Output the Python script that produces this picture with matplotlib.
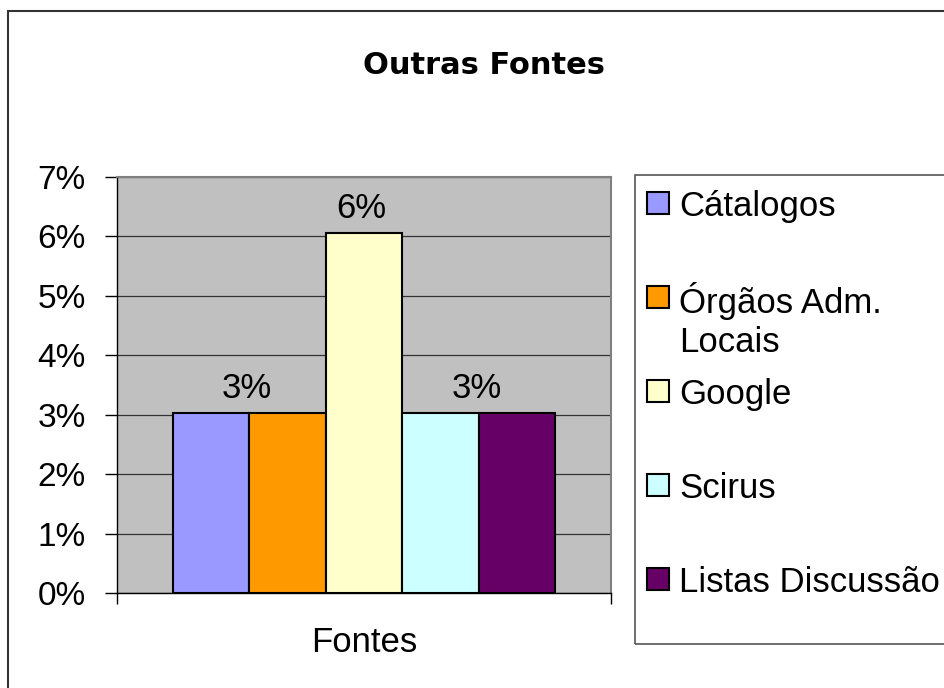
import matplotlib
matplotlib.use('Agg')
import matplotlib.pyplot as plt
from matplotlib.patches import Rectangle
from matplotlib.ticker import FuncFormatter

plt.rcParams['font.family'] = ['Liberation Sans', 'DejaVu Sans']

# dados
categorias = ['Cátalogos', 'Órgãos Adm.\nLocais', 'Google', 'Scirus', 'Listas Discussão']
valores = [3.03, 3.03, 6.06, 3.03, 3.03]  # em %
cores = ['#9999FF', '#FF9900', '#FFFFCC', '#CCFFFF', '#660066']
grupo_x = 'Fontes'
titulo = 'Outras Fontes'
yticks = [0, 1, 2, 3, 4, 5, 6, 7]
# rotulos de dados (Excel mostra um rotulo por grupo de barras iguais)
grupos_rotulo = [[0, 1], [2], [3, 4]]

W, H = 945, 688
fig = plt.figure(figsize=(W / 100, H / 100), dpi=100)
fig.patch.set_facecolor('white')

def px(x0, y0, x1, y1):
    # caixa em pixels (topo-esquerda) -> fracao da figura
    return [x0 / W, 1 - y1 / H, (x1 - x0) / W, (y1 - y0) / H]

# moldura do grafico (cortada a direita e em baixo)
fig.patches.append(Rectangle((8 / W, -0.1), 1.2, (H - 11) / H + 0.1,
                             transform=fig.transFigure, fill=False,
                             edgecolor='#333333', linewidth=1.5))

ax = fig.add_axes(px(117, 177, 611, 593))
ax.set_facecolor('#C0C0C0')

largura = 0.155
centro = 0.5
xs = [centro + (i - (len(valores) - 1) / 2) * largura for i in range(len(valores))]
ax.bar(xs, valores, width=largura, color=cores, edgecolor='black', linewidth=1.5, zorder=3)

for g in grupos_rotulo:
    xm = sum(xs[i] for i in g) / len(g) - 0.005
    ax.annotate('%.0f%%' % valores[g[0]], (xm, valores[g[0]]), xytext=(0, 11),
                textcoords='offset points', ha='center', va='baseline', fontsize=25)

ax.set_xlim(0, 1)
ax.set_ylim(0, 7)
ax.set_yticks(yticks)
ax.yaxis.set_major_formatter(FuncFormatter(lambda v, p: '%d%%' % v))
ax.tick_params(axis='y', direction='out', length=9, width=1, pad=13.5, labelsize=24)
ax.yaxis.grid(True, color='#333333', linewidth=0.9, zorder=1)
ax.set_axisbelow(True)

ax.set_xticks([centro], [grupo_x])
ax.tick_params(axis='x', which='major', length=0, pad=24, labelsize=25)
ax.set_xticks([0, 1], minor=True)
ax.tick_params(axis='x', which='minor', direction='out', length=8, width=1)

for s in ['left', 'bottom']:
    ax.spines[s].set_color('black')
    ax.spines[s].set_linewidth(1)
for s in ['top', 'right']:
    ax.spines[s].set_color('#808080')
    ax.spines[s].set_linewidth(1.5)

fig.text(484 / W, 1 - 66 / H, titulo, ha='center', va='center',
         fontsize=22, fontweight='bold', family=['DejaVu Sans'])

# legenda desenhada a mao, como no Excel
fig.patches.append(Rectangle((635 / W, 1 - 644 / H), (970 - 635) / W, (644 - 175) / H,
                             transform=fig.transFigure, fill=False,
                             edgecolor='#555555', linewidth=1.2))
y0, passo, linha = 203, 94, 42
for i, (nome, cor) in enumerate(zip(categorias, cores)):
    yc = y0 + i * passo
    fig.patches.append(Rectangle((647 / W, 1 - (yc + 11) / H), 22 / W, 22 / H,
                                 transform=fig.transFigure, facecolor=cor,
                                 edgecolor='black', linewidth=1.5))
    for k, parte in enumerate(nome.split('\n')):
        fig.text(679 / W, 1 - (yc + k * linha) / H, parte, ha='left',
                 va='center_baseline', fontsize=25)

fig.savefig('out.png', dpi=100)
